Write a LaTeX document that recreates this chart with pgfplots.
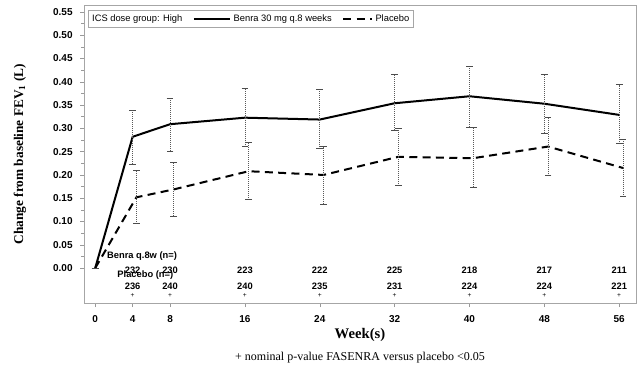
\documentclass[border=0pt]{standalone}
\usepackage{fontspec}
\setmainfont{Liberation Serif}
\setsansfont{Liberation Sans}
\usepackage{pgfplots}
\usepackage{pgfplotstable}
\pgfplotsset{compat=1.18}
\tikzset{
  nlab/.style={font=\sffamily\bfseries\fontsize{7}{8}\selectfont, inner sep=0pt},
  plab/.style={font=\sffamily\fontsize{5}{5}\selectfont, inner sep=0pt},
}
\pgfplotsset{
  legA/.style={legend image code/.code={\draw[##1] (0cm,0cm) -- (0.95cm,0cm);}},
  legB/.style={legend image code/.code={\draw[##1] (0cm,0cm) -- (0.75cm,0cm);}},
}

\pgfplotstableread{
x y ep em
0 0 0 0
4 0.282 0.057 0.059
8 0.309 0.055 0.059
16 0.323 0.063 0.061
24 0.319 0.065 0.063
32 0.354 0.061 0.058
40 0.369 0.065 0.066
48 0.353 0.064 0.063
56 0.329 0.065 0.061
}\benra

\pgfplotstableread{
x y ep em
0 0 0 0
4.4 0.152 0.058 0.056
8.4 0.169 0.057 0.057
16.4 0.208 0.061 0.060
24.4 0.200 0.061 0.063
32.4 0.239 0.062 0.061
40.4 0.236 0.066 0.063
48.4 0.261 0.062 0.063
56.4 0.215 0.062 0.062
}\placebo

\begin{document}
\begin{tikzpicture}
\begin{axis}[
  name=ax,
  scale only axis,
  width=414pt, height=223.5pt,
  xmin=-1.2, xmax=57.8,
  ymin=-0.075, ymax=0.565,
  xtick={0,4,8,16,24,32,40,48,56},
  ytick={0,0.05,0.10,0.15,0.20,0.25,0.30,0.35,0.40,0.45,0.50,0.55},
  minor y tick num=1,
  tick pos=left,
  tick align=outside,
  major tick length=3pt,
  minor tick length=2pt,
  every tick/.style={gray!80},
  axis line style={gray!70, line width=0.6pt},
  /pgf/number format/assume math mode=true,
  yticklabel style={/pgf/number format/fixed, /pgf/number format/fixed zerofill, /pgf/number format/precision=2, xshift=-2pt},
  ticklabel style={font=\sffamily\bfseries\fontsize{7.5}{9}\selectfont},
  xticklabel style={yshift=-3pt},
  ylabel={\bfseries Change from baseline FEV\textsubscript{1} (L)},
  ylabel style={font=\fontsize{10}{12}\selectfont, at={(rel axis cs:0,0.5)}, rotate=0, anchor=center, yshift=48pt},
  xlabel={\bfseries Week(s)},
  xlabel style={font=\fontsize{11}{13}\selectfont, at={(rel axis cs:0.5,0)}, anchor=center, yshift=-24pt},
  legend columns=3,
  legend style={at={(rel axis cs:0.007,0.983)}, anchor=north west, draw=gray!70, line width=0.5pt,
    font=\sffamily\fontsize{7}{8}\selectfont, inner sep=1pt,
    /tikz/every even column/.append style={column sep=6pt}},
  legend cell align=left,
  clip=false,
]
\addlegendimage{empty legend}
\addlegendentry{ICS dose group: High}
\addplot[black, line width=1.5pt, legA,
  error bars/.cd, y dir=both, y explicit,
  error bar style={black!65, line width=0.5pt, densely dotted},
  error mark options={rotate=90, mark size=2.5pt, black!70, line width=0.6pt, solid}]
  table[x=x, y=y, y error plus=ep, y error minus=em]{\benra};
\addlegendentry{Benra 30 mg q.8 weeks}
\addplot[black, line width=1.5pt, dash pattern=on 6pt off 4pt, legB,
  error bars/.cd, y dir=both, y explicit,
  error bar style={black!65, line width=0.5pt, densely dotted},
  error mark options={rotate=90, mark size=2.5pt, black!70, line width=0.6pt, solid}]
  table[x=x, y=y, y error plus=ep, y error minus=em]{\placebo};
\addlegendentry{Placebo}

\node[nlab, anchor=west] at (axis cs:1.25,0.025) {Benra q.8w (n=)};
\node[nlab, anchor=west] at (axis cs:2.35,-0.015) {Placebo (n=)};
\node[nlab] at (axis cs:4,-0.004) {232};
\node[nlab] at (axis cs:8,-0.004) {230};
\node[nlab] at (axis cs:16,-0.004) {223};
\node[nlab] at (axis cs:24,-0.004) {222};
\node[nlab] at (axis cs:32,-0.004) {225};
\node[nlab] at (axis cs:40,-0.004) {218};
\node[nlab] at (axis cs:48,-0.004) {217};
\node[nlab] at (axis cs:56,-0.004) {211};
\node[nlab] at (axis cs:4,-0.039) {236};
\node[nlab] at (axis cs:8,-0.039) {240};
\node[nlab] at (axis cs:16,-0.039) {240};
\node[nlab] at (axis cs:24,-0.039) {235};
\node[nlab] at (axis cs:32,-0.039) {231};
\node[nlab] at (axis cs:40,-0.039) {224};
\node[nlab] at (axis cs:48,-0.039) {224};
\node[nlab] at (axis cs:56,-0.039) {221};
\node[plab] at (axis cs:4,-0.060) {+};
\node[plab] at (axis cs:8,-0.060) {+};
\node[plab] at (axis cs:16,-0.060) {+};
\node[plab] at (axis cs:24,-0.060) {+};
\node[plab] at (axis cs:32,-0.060) {+};
\node[plab] at (axis cs:40,-0.060) {+};
\node[plab] at (axis cs:48,-0.060) {+};
\node[plab] at (axis cs:56,-0.060) {+};
\end{axis}
\node[font=\fontsize{9}{11}\selectfont, anchor=center] at ([yshift=-41pt]ax.south) {+ nominal p-value FASENRA versus placebo <0.05};
\pgfresetboundingbox
\path[use as bounding box] ([xshift=-63pt, yshift=-51pt]ax.south west) rectangle ([xshift=3pt, yshift=3.75pt]ax.north east);
\end{tikzpicture}
\end{document}
